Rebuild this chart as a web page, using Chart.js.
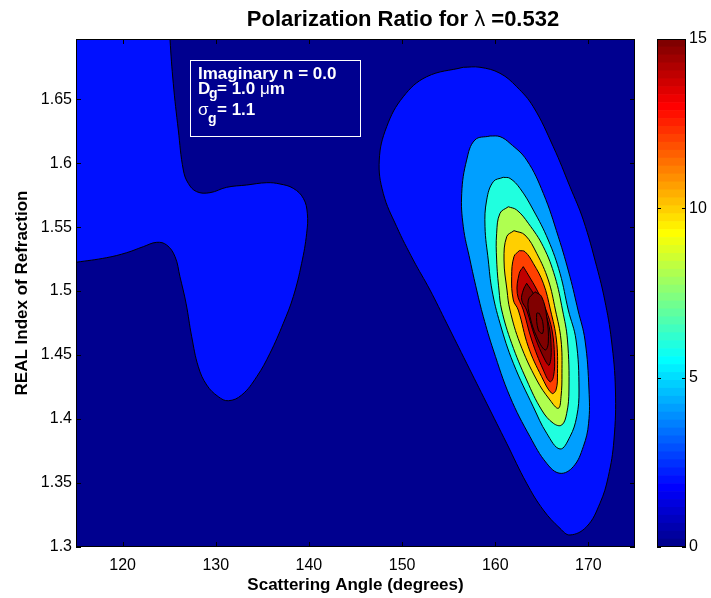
<!DOCTYPE html>
<html><head><meta charset="utf-8">
<script src="https://cdn.jsdelivr.net/npm/chart.js@4"></script>
<style>
html,body{margin:0;padding:0;background:#fff;}
#wrap{position:relative;width:711px;height:598px;}
canvas{position:absolute;left:0;top:0;}
</style>
</head><body>
<div id="wrap"><canvas id="main" width="711" height="598"></canvas><canvas id="cbar" width="711" height="598"></canvas></div>
<script>
// ---------- data (scattering angle in degrees, real refractive index) ----------
const angleRange = [115, 175];
const indexRange = [1.3, 1.697];
const xTicks = [120, 130, 140, 150, 160, 170];
const yTicks = [1.3, 1.35, 1.4, 1.45, 1.5, 1.55, 1.6, 1.65];
const colorRange = [0, 15];
const colorTicks = [0, 5, 10, 15];
const contourLevels = [2, 4, 6, 8, 10, 12, 14, 16, 18, 20];

// level-2 contour of the left lobe (touches left and top borders)
const leftLobeL2 = [[114,1.5215],[115,1.5225],[118.29,1.5261],[120.44,1.5300],[122.22,1.5347],[123.66,1.5381],[124.73,1.5360],[125.63,1.5269],[126.16,1.5112],[126.81,1.4905],[127.42,1.4643],[128.13,1.4409],[129.03,1.4266],[130.27,1.4175],[131.35,1.4143],[132.79,1.4188],[134.40,1.4331],[135.82,1.4514],[137.25,1.4748],[138.32,1.4956],[139.22,1.5217],[139.76,1.5452],[139.83,1.5608],[139.40,1.5725],[138.32,1.5803],[136.89,1.5837],[135.47,1.5847],[133.32,1.5829],[131.17,1.5811],[129.38,1.5769],[127.95,1.5777],[127.05,1.5842],[126.52,1.5946],[125.98,1.6259],[125.44,1.6624],[125.09,1.697],[125.05,1.71],[114,1.71],[114,1.5215]];

// nested contours of the main peak
const peakL2 = [[156.57,1.6749],[158.36,1.6749],[160.51,1.6702],[162.30,1.6597],[164.08,1.6441],[166.23,1.6128],[168.02,1.5816],[169.45,1.5556],[170.89,1.5191],[171.75,1.4930],[172.47,1.4618],[172.90,1.4227],[172.74,1.3836],[172.13,1.3549],[171.24,1.3342],[169.81,1.3159],[168.02,1.3094],[166.95,1.3146],[165.16,1.3289],[163.37,1.3498],[161.23,1.3810],[159.08,1.4123],[156.93,1.4436],[154.79,1.4748],[153.00,1.5008],[151.20,1.5243],[149.42,1.5503],[147.98,1.5764],[147.55,1.6024],[148.35,1.6285],[150.13,1.6519],[152.64,1.6675],[156.57,1.6749]];
const peakL4 = [[159.44,1.6212],[160.51,1.6207],[161.58,1.6155],[163.37,1.6024],[165.16,1.5764],[166.77,1.5425],[168.02,1.5112],[168.88,1.4852],[169.63,1.4618],[170.06,1.4227],[170.02,1.3967],[169.45,1.3784],[168.38,1.3628],[166.95,1.3576],[165.52,1.3654],[163.73,1.3862],[161.58,1.4175],[159.79,1.4540],[158.72,1.4800],[158.01,1.5008],[157.29,1.5243],[156.57,1.5503],[156.40,1.5764],[156.93,1.6024],[157.82,1.6181],[159.44,1.6212]];
const peakL6 = [[160.86,1.5889],[161.58,1.5881],[162.65,1.5803],[164.08,1.5634],[165.69,1.5399],[166.95,1.5139],[167.84,1.4852],[168.67,1.4618],[168.99,1.4227],[168.74,1.4018],[168.02,1.3862],[166.95,1.3766],[165.52,1.3889],[164.08,1.4096],[161.94,1.4436],[160.51,1.4748],[159.65,1.5008],[159.25,1.5243],[158.90,1.5503],[159.08,1.5712],[159.79,1.5855],[160.86,1.5889]];
const peakL8 = [[161.40,1.5659],[162.30,1.5634],[163.55,1.5530],[165.16,1.5347],[166.41,1.5112],[167.22,1.4852],[167.75,1.4618],[167.91,1.4227],[167.67,1.4045],[167.13,1.3953],[166.23,1.3967],[164.98,1.4071],[163.37,1.4305],[161.76,1.4592],[160.69,1.4852],[160.40,1.5008],[160.15,1.5243],[160.15,1.5452],[160.51,1.5608],[161.40,1.5659]];
const peakL10 = [[162.01,1.5472],[163.19,1.5438],[164.45,1.5295],[165.69,1.5087],[166.46,1.4852],[167.06,1.4618],[167.16,1.4357],[167.06,1.4175],[166.77,1.4084],[165.87,1.4149],[164.45,1.4305],[162.65,1.4592],[161.58,1.4852],[161.26,1.5008],[160.94,1.5243],[161.23,1.5425],[162.01,1.5472]];
const peakL12 = [[162.58,1.5316],[163.19,1.5308],[164.08,1.5217],[165.16,1.5061],[165.93,1.4852],[166.57,1.4618],[166.68,1.4357],[166.52,1.4227],[166.06,1.4201],[164.98,1.4331],[163.55,1.4565],[162.47,1.4852],[161.94,1.4930],[161.76,1.5112],[162.01,1.5269],[162.58,1.5316]];
const peakL14 = [[163.01,1.5191],[163.55,1.5126],[164.48,1.5008],[165.45,1.4852],[166.09,1.4696],[166.36,1.4487],[166.25,1.4331],[165.87,1.4292],[165.16,1.4383],[163.91,1.4618],[163.01,1.4852],[162.36,1.4983],[162.58,1.5139],[163.01,1.5191]];
const peakL16 = [[163.37,1.5061],[164.08,1.4983],[164.80,1.4878],[165.60,1.4780],[166.00,1.4560],[165.80,1.4422],[165.34,1.4461],[164.26,1.4643],[163.37,1.4852],[162.84,1.4930],[163.01,1.5008],[163.37,1.5061]];
const peakL18 = [[164.26,1.4995],[164.98,1.4956],[165.52,1.4800],[165.69,1.4592],[165.34,1.4540],[164.45,1.4643],[163.73,1.4800],[163.55,1.4930],[164.26,1.4995]];
const peakL20 = [[164.73,1.4826],[165.09,1.4761],[165.09,1.4670],[164.62,1.4696],[164.45,1.4826],[164.73,1.4826]];

const contours = [
  {pts: leftLobeL2, level: 2},
  {pts: peakL2, level: 2},
  {pts: peakL4, level: 4},
  {pts: peakL6, level: 6},
  {pts: peakL8, level: 8},
  {pts: peakL10, level: 10},
  {pts: peakL12, level: 12},
  {pts: peakL14, level: 14},
  {pts: peakL16, level: 16},
  {pts: peakL18, level: 18},
  {pts: peakL20, level: 20}
];

// ---------- styling helpers ----------
const NCOL = 64;
function jetRGB(j) { // j = 1..64, MATLAB jet(64)
  let r, g, b;
  if (j <= 8) { r = 0; g = 0; b = 0.5 + 0.0625 * j; }
  else if (j <= 24) { r = 0; g = 0.0625 * (j - 8); b = 1; }
  else if (j <= 40) { r = 0.0625 * (j - 24); g = 1; b = 1 - 0.0625 * (j - 24); }
  else if (j <= 56) { r = 1; g = 1 - 0.0625 * (j - 40); b = 0; }
  else { r = 1 - 0.0625 * (j - 56); g = 0; b = 0; }
  return 'rgb(' + Math.round(r * 255) + ',' + Math.round(g * 255) + ',' + Math.round(b * 255) + ')';
}
function levelColor(v) {
  let j = Math.floor((v - colorRange[0]) / (colorRange[1] - colorRange[0]) * NCOL) + 1;
  j = Math.max(1, Math.min(NCOL, j));
  return jetRGB(j);
}
const FONT = '"Liberation Sans", Arial, Helvetica, sans-serif';

const datasets = contours.map((c, i) => ({
  data: c.pts.map(p => ({x: p[0], y: p[1]})),
  showLine: true,
  fill: 'shape',
  backgroundColor: levelColor(c.level),
  borderColor: '#000',
  borderWidth: 1,
  pointRadius: 0,
  tension: 0.4,
  order: contours.length - i,
  clip: 0
}));

const bgPlugin = {
  id: 'bg',
  beforeDatasetsDraw(chart) {
    const {ctx, chartArea: a} = chart;
    ctx.save();
    ctx.fillStyle = levelColor(colorRange[0]);
    ctx.fillRect(a.left, a.top, a.right - a.left, a.bottom - a.top);
    ctx.restore();
  }
};

const decoPlugin = {
  id: 'deco',
  afterDraw(chart) {
    const {ctx, chartArea: a, scales} = chart;
    ctx.save();
    // inward ticks
    ctx.strokeStyle = '#000'; ctx.lineWidth = 1;
    ctx.beginPath();
    xTicks.forEach(v => {
      const x = Math.round(scales.x.getPixelForValue(v)) + 0.5;
      ctx.moveTo(x, a.bottom); ctx.lineTo(x, a.bottom - 5);
      ctx.moveTo(x, a.top); ctx.lineTo(x, a.top + 5);
    });
    yTicks.forEach(v => {
      const y = Math.round(scales.y.getPixelForValue(v)) + 0.5;
      ctx.moveTo(a.left, y); ctx.lineTo(a.left + 5, y);
      ctx.moveTo(a.right, y); ctx.lineTo(a.right - 5, y);
    });
    ctx.stroke();
    // frame
    ctx.strokeRect(a.left + 0.5, a.top + 0.5, a.right - a.left - 1, a.bottom - a.top - 1);

    // title
    ctx.fillStyle = '#000';
    ctx.textBaseline = 'alphabetic';
    const parts = [['bold 22px ' + FONT, 'Polarization Ratio for '], ['22px ' + FONT, 'λ'], ['bold 22px ' + FONT, ' =0.532']];
    let w = 0;
    parts.forEach(p => { ctx.font = p[0]; w += ctx.measureText(p[1]).width; });
    let x0 = 403 - w / 2;
    ctx.textAlign = 'left';
    parts.forEach(p => { ctx.font = p[0]; ctx.fillText(p[1], x0, 26); x0 += ctx.measureText(p[1]).width; });

    // axis titles
    ctx.font = 'bold 17px ' + FONT;
    ctx.textAlign = 'center';
    ctx.fillText('Scattering Angle (degrees)', (a.left + a.right) / 2, 590);
    ctx.save();
    ctx.translate(27, (a.top + a.bottom) / 2);
    ctx.rotate(-Math.PI / 2);
    ctx.fillText('REAL Index of Refraction', 0, 0);
    ctx.restore();

    // info box
    const bx = a.left + 114, by = a.top + 21;
    ctx.strokeStyle = '#fff';
    ctx.strokeRect(bx + 0.5, by + 0.5, 170, 76);
    ctx.fillStyle = '#fff';
    ctx.textAlign = 'left';
    ctx.font = 'bold 17px ' + FONT;
    ctx.fillText('Imaginary n = 0.0', bx + 8, by + 19);
    ctx.fillText('D', bx + 8, by + 34);
    ctx.fillText('= 1.0 ', bx + 27, by + 34);
    const muX = bx + 27 + ctx.measureText('= 1.0 ').width;
    ctx.font = '17px ' + FONT;
    ctx.fillText('μ', muX, by + 34);
    const mX = muX + ctx.measureText('μ').width;
    ctx.font = 'bold 17px ' + FONT;
    ctx.fillText('m', mX, by + 34);
    ctx.font = '17px ' + FONT;
    ctx.fillText('σ', bx + 8, by + 55);
    ctx.font = 'bold 17px ' + FONT;
    ctx.fillText('= 1.1', bx + 27, by + 55);
    ctx.font = 'bold 14px ' + FONT;
    ctx.fillText('g', bx + 19, by + 38);
    ctx.fillText('g', bx + 18, by + 63);
    ctx.restore();
  }
};

new Chart(document.getElementById('main'), {
  type: 'scatter',
  data: {datasets},
  options: {
    responsive: false, animation: false, devicePixelRatio: 1,
    layout: {padding: {left: 0, top: 39, right: 76, bottom: 0}},
    plugins: {legend: {display: false}, tooltip: {enabled: false}, title: {display: false}},
    scales: {
      x: {
        type: 'linear', min: angleRange[0], max: angleRange[1],
        afterBuildTicks: s => { s.ticks = xTicks.map(v => ({value: v})); },
        ticks: {font: {family: FONT, size: 16}, color: '#000', padding: 9, maxRotation: 0, callback: v => String(v)},
        grid: {display: false, drawTicks: false}, border: {display: false},
        afterFit: s => { s.height = 51; }
      },
      y: {
        type: 'linear', min: indexRange[0], max: indexRange[1],
        afterBuildTicks: s => { s.ticks = yTicks.map(v => ({value: v})); },
        ticks: {font: {family: FONT, size: 16}, color: '#000', padding: 4, callback: v => String(+v.toFixed(2))},
        grid: {display: false, drawTicks: false}, border: {display: false},
        afterFit: s => { s.width = 76; }
      }
    }
  },
  plugins: [bgPlugin, decoPlugin]
});

// ---------- colorbar ----------
const cbSets = [];
for (let j = 1; j <= NCOL; j++) {
  cbSets.push({data: [(colorRange[1] - colorRange[0]) / NCOL], backgroundColor: jetRGB(j), borderWidth: 0,
    barPercentage: 1, categoryPercentage: 1});
}
const cbDeco = {
  id: 'cbdeco',
  afterDraw(chart) {
    const {ctx, chartArea: a, scales} = chart;
    ctx.save();
    ctx.strokeStyle = '#000'; ctx.lineWidth = 1;
    ctx.beginPath();
    colorTicks.forEach(v => {
      const y = Math.round(scales.y.getPixelForValue(v)) + 0.5;
      ctx.moveTo(a.left, y); ctx.lineTo(a.left + 4, y);
      ctx.moveTo(a.right, y); ctx.lineTo(a.right - 4, y);
    });
    ctx.stroke();
    ctx.strokeRect(a.left + 0.5, a.top + 0.5, a.right - a.left - 1, a.bottom - a.top - 1);
    ctx.restore();
  }
};
new Chart(document.getElementById('cbar'), {
  type: 'bar',
  data: {labels: [''], datasets: cbSets},
  options: {
    responsive: false, animation: false, devicePixelRatio: 1,
    layout: {padding: {left: 657, top: 39, right: 0, bottom: 51}},
    plugins: {legend: {display: false}, tooltip: {enabled: false}},
    scales: {
      x: {display: false, stacked: true},
      y: {
        stacked: true, position: 'right', min: colorRange[0], max: colorRange[1],
        afterBuildTicks: s => { s.ticks = colorTicks.map(v => ({value: v})); },
        ticks: {font: {family: FONT, size: 16}, color: '#000', padding: 3},
        grid: {display: false, drawTicks: false}, border: {display: false},
        afterFit: s => { s.width = 25; }
      }
    }
  },
  plugins: [cbDeco]
});
</script>
</body></html>
